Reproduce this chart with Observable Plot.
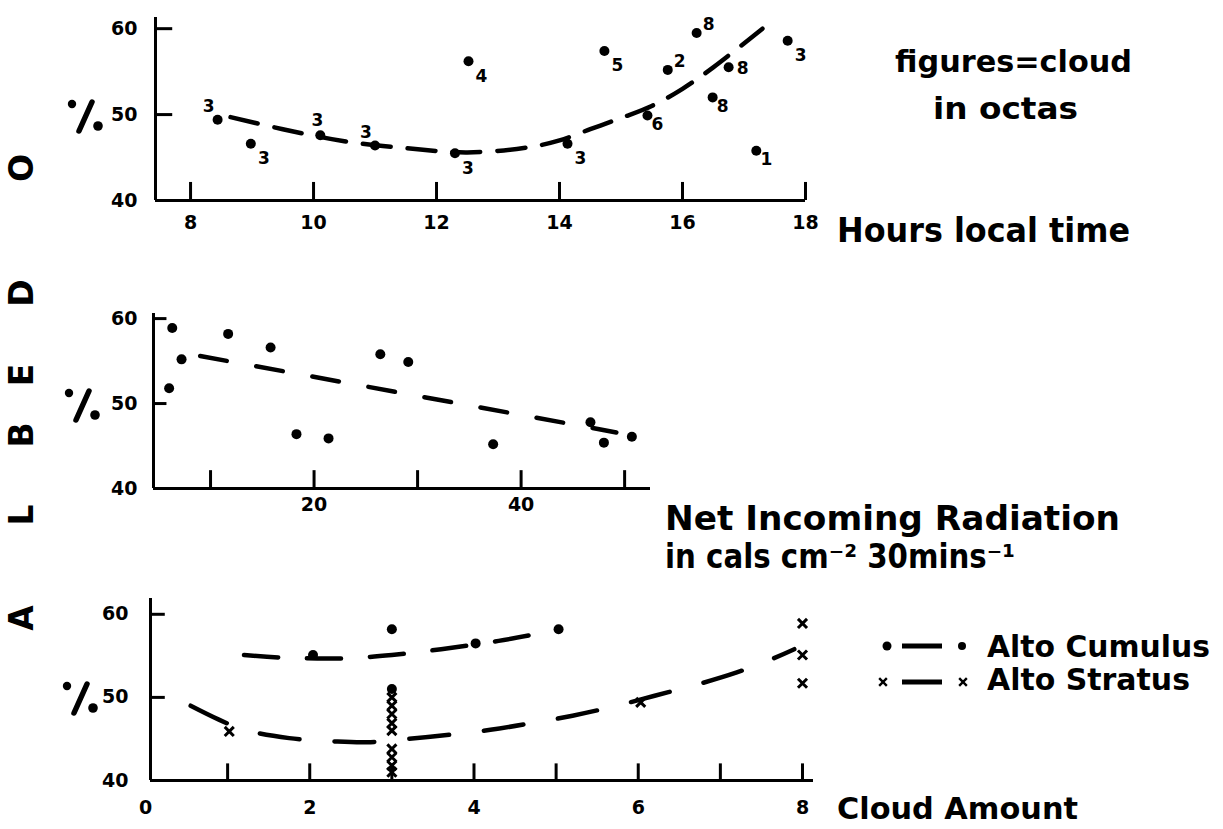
<!DOCTYPE html>
<html><head><meta charset="utf-8">
<script src="https://cdn.jsdelivr.net/npm/d3@7"></script>
<script src="https://cdn.jsdelivr.net/npm/@observablehq/plot@0.6"></script>
<style>
html,body{margin:0;padding:0;background:#fff;}
#wrap{position:relative;width:1223px;height:829px;overflow:hidden;background:#fff;}
.panel{position:absolute;left:0;}
#overlay{position:absolute;left:0;top:0;pointer-events:none;}
#overlay text{font-family:"DejaVu Sans",sans-serif;font-weight:bold;fill:#000;}
</style></head><body>
<div id="wrap">
  <div class="panel" id="p1" style="top:0px"></div>
  <div class="panel" id="p2" style="top:290px"></div>
  <div class="panel" id="p3" style="top:590px"></div>
  <svg id="overlay" width="1223" height="829"></svg>
</div>
<script>
// ---------- DATA ----------
// Panel 1: albedo vs hours local time (labels = cloud in octas)
const hours    = [8.44, 8.98, 10.11, 11.0, 12.3, 12.52, 14.13, 14.73, 15.43, 15.76, 16.23, 16.49, 16.75, 17.2, 17.71];
const albedoH  = [49.4, 46.6, 47.6, 46.4, 45.5, 56.2, 46.6, 57.4, 49.9, 55.2, 59.5, 52.0, 55.5, 45.8, 58.6];
const octas    = [3, 3, 3, 3, 3, 4, 3, 5, 6, 2, 8, 8, 8, 1, 3];
const octaPos  = ["nw","se","n","nw","se","se","se","se","se2","ne","ne","se2","e","se2","se"];
const hourFitX = [8.65, 9.5, 10.5, 11.5, 12.5, 13.5, 14.0, 14.5, 15.0, 15.5, 16.0, 16.5, 17.3];
const hourFitY = [49.7, 48.3, 46.9, 46.1, 45.6, 46.2, 47.0, 48.3, 49.6, 51.0, 53.0, 55.5, 60.0];
const hourTicks = [8, 10, 12, 14, 16, 18];

// Panel 2: albedo vs net incoming radiation
const radX = [6.3, 7.2, 6.0, 11.7, 15.8, 18.3, 21.4, 26.4, 29.1, 37.3, 46.7, 48.0, 50.7];
const radY = [58.9, 55.2, 51.8, 58.2, 56.6, 46.4, 45.9, 55.8, 54.9, 45.2, 47.8, 45.4, 46.1];
const radFitX = [9.0, 49.2];
const radFitY = [55.6, 46.6];
const radTicks = [10, 20, 30, 40, 50];
const radTickLabels = [20, 40];

// Panel 3: albedo vs cloud amount
const acX = [2.04, 3.0, 4.02, 5.03, 3.0];
const acY = [55.1, 58.2, 56.5, 58.2, 51.0];
const asX = [1.02, 3, 3, 3, 3, 3, 3, 3, 3, 3, 6.03, 8, 8, 8];
const asY = [45.9, 50.0, 49.0, 48.0, 46.9, 46.0, 43.8, 42.8, 41.8, 41.0, 49.4, 58.9, 55.1, 51.7];
const acFitX = [1.2, 1.65, 2.4, 3.0, 3.6, 4.3, 4.8];
const acFitY = [55.1, 54.8, 54.7, 55.1, 55.8, 56.8, 57.7];
const asFitX = [0.55, 0.9, 1.2, 1.75, 2.3, 2.7, 3.2, 3.7, 4.2, 4.7, 5.2, 5.7, 6.2, 6.7, 7.2, 7.6, 7.9];
const asFitY = [49.0, 47.3, 46.1, 45.1, 44.7, 44.6, 45.0, 45.5, 46.1, 46.9, 47.8, 48.9, 50.2, 51.5, 53.0, 54.5, 55.8];
const cloudTicks = [1, 2, 3, 4, 5, 6, 7, 8];
const cloudTickLabels = [0, 2, 4, 6, 8];

const albedoTicks = [40, 50, 60];

// ---------- HELPERS ----------
const zip = (xs, ys, extra) => xs.map((x, i) => ({x, y: ys[i], ...(extra ? extra(i) : {})}));
const BLACK = "#000";

function panel(o) {
  const x0 = o.xd[0];
  return Plot.plot({
    width: 1223, height: o.height,
    marginLeft: o.ml, marginRight: o.mr, marginTop: o.mt, marginBottom: o.mb,
    x: {domain: o.xd}, y: {domain: o.yd},
    style: {fontFamily: "DejaVu Sans, sans-serif", fontWeight: "bold", fontSize: "19px",
            color: BLACK, background: "transparent", overflow: "visible"},
    marks: [
      Plot.ruleY([40], {stroke: BLACK, strokeWidth: 3}),
      Plot.ruleX([x0], {stroke: BLACK, strokeWidth: 3}),
      Plot.ruleX(o.xTicks, {y1: 40, y2: 40 + o.xTickLen, stroke: BLACK, strokeWidth: 3}),
      Plot.ruleY(albedoTicks.filter(v => v > 40), {x1: x0, x2: x0 + o.yTickLen, stroke: BLACK, strokeWidth: 3}),
      Plot.axisX(o.xLabels, {tickSize: 0, tickPadding: o.xPad, fill: BLACK, label: null}),
      Plot.axisY(albedoTicks, {tickSize: 0, tickPadding: o.yPad, fill: BLACK, label: null}),
      ...o.marks
    ]
  });
}

// ---------- PANEL 1 ----------
const hourData = zip(hours, albedoH, i => ({t: String(octas[i]), p: octaPos[i]}));
const posOffset = {nw: [-9, -13], n: [-3, -15], se: [13, 15], se2: [10, 9], ne: [12, -8], e: [14, 1]};
document.getElementById("p1").append(panel({
  height: 260, ml: 155, mr: 418, mt: 17, mb: 60,
  xd: [7.43, 18], yd: [40, 61.3],
  xTicks: hourTicks, xLabels: hourTicks, xTickLen: 2.1, yTickLen: 0.28, xPad: 15, yPad: 18,
  marks: [
    Plot.line(zip(hourFitX, hourFitY), {x: "x", y: "y", curve: "catmull-rom", stroke: BLACK,
      strokeWidth: 4.5, strokeDasharray: "28,17", strokeLinecap: "round"}),
    Plot.dot(hourData, {x: "x", y: "y", r: 5, fill: BLACK}),
    ...Object.entries(posOffset).map(([k, [dx, dy]]) =>
      Plot.text(hourData.filter(d => d.p === k), {x: "x", y: "y", text: "t", dx, dy, fontSize: 17, fill: BLACK}))
  ]
}));

// ---------- PANEL 2 ----------
document.getElementById("p2").append(panel({
  height: 230, ml: 153, mr: 573, mt: 23, mb: 32,
  xd: [4.49, 52.5], yd: [40, 60.6],
  xTicks: radTicks, xLabels: radTickLabels, xTickLen: 2.1, yTickLen: 1.3, xPad: 9, yPad: 16,
  marks: [
    Plot.line(zip(radFitX, radFitY), {x: "x", y: "y", stroke: BLACK,
      strokeWidth: 4.5, strokeDasharray: "27,30", strokeLinecap: "round"}),
    Plot.dot(zip(radX, radY), {x: "x", y: "y", r: 5, fill: BLACK})
  ]
}));

// ---------- PANEL 3 ----------
document.getElementById("p3").append(panel({
  height: 239, ml: 150, mr: 410, mt: 8, mb: 49,
  xd: [0.061, 8.134], yd: [40, 61.9],
  xTicks: cloudTicks, xLabels: cloudTickLabels, xTickLen: 2.0, yTickLen: 0.18, xPad: 20, yPad: 22,
  marks: [
    Plot.line(zip(acFitX, acFitY), {x: "x", y: "y", curve: "catmull-rom", stroke: BLACK,
      strokeWidth: 4.5, strokeDasharray: "34,29", strokeLinecap: "round"}),
    Plot.line(zip(asFitX, asFitY), {x: "x", y: "y", curve: "catmull-rom", stroke: BLACK,
      strokeWidth: 4.5, strokeDasharray: "40,35", strokeLinecap: "round"}),
    Plot.dot(zip(acX, acY), {x: "x", y: "y", r: 5, fill: BLACK}),
    Plot.dot(zip(asX, asY), {x: "x", y: "y", symbol: "times", r: 4.2, stroke: BLACK, strokeWidth: 3})
  ]
}));

// ---------- OVERLAY: titles, axis names, legend ----------
const ov = d3.select("#overlay");
function label(txt, x, y, size, len) {
  const t = ov.append("text").attr("x", x).attr("y", y).attr("font-size", size).text(txt);
  if (len) t.attr("textLength", len).attr("lengthAdjust", "spacingAndGlyphs");
  return t;
}
label("figures=cloud", 895, 72, 30, 237);
label("in octas", 933, 119, 30, 145);
label("Hours local time", 837, 242, 33, 293);
label("Net Incoming Radiation", 665, 530, 33, 455);
label("in cals cm\u207B\u00B2 30mins\u207B\u00B9", 665, 568, 33, 350);
label("Cloud Amount", 837, 819, 31, 241);
label("Alto Cumulus", 987, 657, 31, 223);
label("Alto Stratus", 987, 690, 31, 203);

// legend symbols
ov.append("circle").attr("cx", 887).attr("cy", 646).attr("r", 4.5);
ov.append("line").attr("x1", 902).attr("x2", 942).attr("y1", 646).attr("y2", 646).attr("stroke", BLACK).attr("stroke-width", 5);
ov.append("circle").attr("cx", 962).attr("cy", 646).attr("r", 4);
ov.append("line").attr("x1", 902).attr("x2", 942).attr("y1", 682).attr("y2", 682).attr("stroke", BLACK).attr("stroke-width", 5);
for (const cx of [883, 963]) {
  ov.append("path").attr("d", d3.symbol(d3.symbolTimes, 40)()).attr("transform", `translate(${cx},682)`)
    .attr("stroke", BLACK).attr("stroke-width", 2.4).attr("fill", "none");
}

// percent glyphs beside "50"
for (const [dx, y50] of [[0, 114], [-3, 403], [-5, 696]]) {
  const g = ov.append("g").attr("transform", `translate(${dx},${y50})`);
  g.append("circle").attr("cx", 72).attr("cy", -10).attr("r", 4.2);
  g.append("line").attr("x1", 79).attr("y1", 17).attr("x2", 92).attr("y2", -12)
    .attr("stroke", BLACK).attr("stroke-width", 5.5).attr("stroke-linecap", "round");
  g.append("circle").attr("cx", 98).attr("cy", 12).attr("r", 4.8);
}

// rotated ALBEDO letters
const letters = [["A", 618], ["L", 515], ["B", 435], ["E", 375], ["D", 293], ["O", 168]];
for (const [ch, cy] of letters) {
  ov.append("text").attr("transform", `translate(33,${cy}) rotate(-90)`)
    .attr("text-anchor", "middle").attr("font-size", 33).text(ch);
}
</script>
</body></html>
